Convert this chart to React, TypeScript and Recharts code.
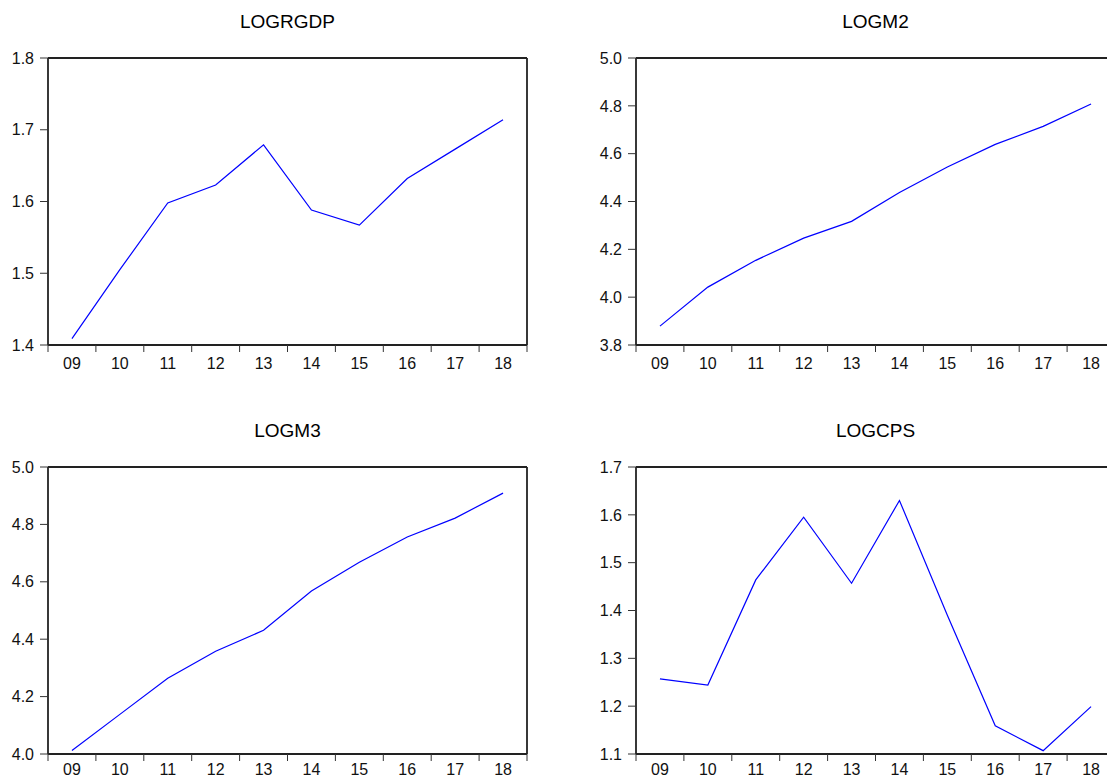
import React from "react";
import { LineChart, Line, XAxis, YAxis } from "recharts";

// Annual observations, 2009-2018
const years = [2009, 2010, 2011, 2012, 2013, 2014, 2015, 2016, 2017, 2018];
const logrgdp = [1.409, 1.505, 1.598, 1.623, 1.679, 1.588, 1.567, 1.632, 1.673, 1.714];
const logm2 = [3.879, 4.042, 4.154, 4.247, 4.317, 4.438, 4.544, 4.639, 4.714, 4.808];
const logm3 = [4.012, 4.138, 4.264, 4.358, 4.431, 4.568, 4.668, 4.756, 4.822, 4.909];
const logcps = [1.257, 1.244, 1.464, 1.595, 1.457, 1.63, 1.39, 1.159, 1.107, 1.199];

const ticksRgdp = [1.4, 1.5, 1.6, 1.7, 1.8];
const ticksM2 = [3.8, 4.0, 4.2, 4.4, 4.6, 4.8, 5.0];
const ticksM3 = [4.0, 4.2, 4.4, 4.6, 4.8, 5.0];
const ticksCps = [1.1, 1.2, 1.3, 1.4, 1.5, 1.6, 1.7];

// tick marks sit between the years, like the EViews output
const edgeTicks = [...years.map((y) => y - 0.5), years[years.length - 1] + 0.5];
const xDomain = [edgeTicks[0], edgeTicks[edgeTicks.length - 1]];

const PAGE_W = 1107;
const FONT = "Arial, 'Liberation Sans', sans-serif";
const tickStyle = { fontSize: 16, fill: "#111", fontFamily: FONT };
const axisColor = "#333";
const frame = { stroke: "#222", strokeWidth: 1.8 };

function Panel({
  title,
  values,
  ticks,
  left,
  top,
  width,
  labelGap,
}: {
  title: string;
  values: number[];
  ticks: number[];
  left: number;
  top: number;
  width: number;
  labelGap: number;
}) {
  const data = years.map((year, i) => ({ year, value: values[i] }));
  const yMin = ticks[0];
  const yMax = ticks[ticks.length - 1];
  const plotLeft = left + 48;
  const plotWidth = width - 48 - 13;
  // the right-hand panels run off the edge of the page in the original
  const visibleW = Math.min(width, PAGE_W - left);
  return (
    <>
      <div
        style={{
          position: "absolute",
          left: plotLeft,
          top: top + 12,
          width: plotWidth,
          textAlign: "center",
          fontFamily: FONT,
          fontSize: 19,
          lineHeight: "19px",
          color: "#000",
        }}
      >
        {title}
      </div>
      <div
        style={{
          position: "absolute",
          left,
          top,
          width: visibleW,
          height: 390,
          overflow: "hidden",
        }}
      >
        <LineChart
          width={width}
          height={390}
          data={data}
          margin={{ top: 57, right: 12, bottom: 14, left: 0 }}
        >
          <XAxis
            xAxisId="top"
            orientation="top"
            type="number"
            dataKey="year"
            domain={xDomain}
            height={1}
            tick={false}
            tickLine={false}
            axisLine={frame}
            allowDataOverflow
          />
          <XAxis
            xAxisId="edges"
            type="number"
            dataKey="year"
            domain={xDomain}
            ticks={edgeTicks}
            tickFormatter={() => ""}
            height={1}
            tickSize={7}
            axisLine={frame}
            tickLine={{ stroke: axisColor }}
            interval={0}
            allowDataOverflow
          />
          <XAxis
            xAxisId="labels"
            type="number"
            dataKey="year"
            domain={xDomain}
            ticks={years}
            tickFormatter={(y: number) => String(y).slice(2)}
            height={30}
            tickSize={6}
            tickMargin={labelGap}
            axisLine={false}
            tickLine={false}
            tick={tickStyle}
            interval={0}
            allowDataOverflow
          />
          <YAxis
            type="number"
            domain={[yMin, yMax]}
            ticks={ticks}
            tickFormatter={(v: number) => v.toFixed(1)}
            width={48}
            tickSize={8}
            tickMargin={6}
            tick={tickStyle}
            axisLine={frame}
            tickLine={{ stroke: axisColor }}
            interval={0}
            allowDataOverflow
          />
          <YAxis
            yAxisId="right"
            orientation="right"
            type="number"
            domain={[yMin, yMax]}
            width={1}
            tick={false}
            tickLine={false}
            axisLine={frame}
            allowDataOverflow
          />
          <Line
            xAxisId="labels"
            type="linear"
            dataKey="value"
            stroke="#0000ff"
            strokeWidth={1.2}
            dot={false}
            isAnimationActive={false}
          />
        </LineChart>
      </div>
    </>
  );
}

export default function App() {
  return (
    <div
      style={{
        position: "absolute",
        left: 0,
        top: 0,
        width: PAGE_W,
        height: 779,
        overflow: "hidden",
        background: "#fff",
      }}
    >
      <Panel title="LOGRGDP" values={logrgdp} ticks={ticksRgdp} left={0} top={0} width={540} labelGap={6} />
      <Panel title="LOGM2" values={logm2} ticks={ticksM2} left={588} top={0} width={540} labelGap={6} />
      <Panel title="LOGM3" values={logm3} ticks={ticksM3} left={0} top={409} width={540} labelGap={3} />
      <Panel title="LOGCPS" values={logcps} ticks={ticksCps} left={588} top={409} width={540} labelGap={3} />
    </div>
  );
}
